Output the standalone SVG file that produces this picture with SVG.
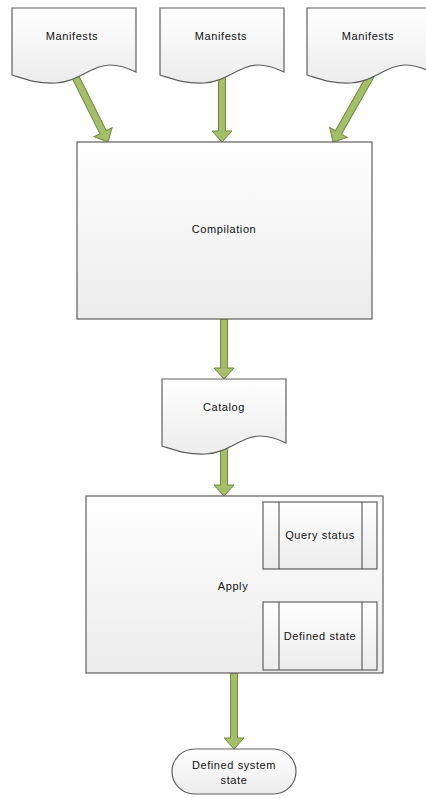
<svg xmlns="http://www.w3.org/2000/svg" width="426" height="798" viewBox="0 0 426 798">
  <style>
    .shape { fill: url(#boxFill); stroke: #5f5f5f; stroke-width: 1.2; }
    .inner { fill: none; stroke: #5f5f5f; stroke-width: 1.2; }
    .flow { fill: #a3bf6a; stroke: #6f8a3e; stroke-width: 1; stroke-linejoin: miter; }
    .label { font-family: "Liberation Sans", Arial, sans-serif; font-size: 11px; letter-spacing: 0.6px; fill: #111; text-anchor: middle; }
  </style>
  <defs>
    <linearGradient id="boxFill" x1="0" y1="0" x2="0" y2="1">
      <stop offset="0" stop-color="#ffffff"/>
      <stop offset="1" stop-color="#ececec"/>
    </linearGradient>
    <!-- document shape: flat top, wavy bottom -->
    <path id="doc" d="M0,0 H124 V64 C116,60 108,57 98,57 C80,57 66,74 44,75 C24,76 10,70 0,67 Z"/>
  </defs>

  <rect width="426" height="798" fill="#ffffff"/>

  <!-- connectors (drawn first so shapes sit on top) -->
  <g id="connectors">
    <!-- down-pointing fat arrow with tip at origin -->
    <polygon class="flow" transform="translate(108,142) rotate(-26.6)" points="-3.5,-76 3.5,-76 3.5,-11 10,-11 0,0 -10,-11 -3.5,-11"/>
    <polygon class="flow" transform="translate(222,142)" points="-3.5,-72 3.5,-72 3.5,-11 10,-11 0,0 -10,-11 -3.5,-11"/>
    <polygon class="flow" transform="translate(333,142) rotate(29.6)" points="-3.5,-76 3.5,-76 3.5,-11 10,-11 0,0 -10,-11 -3.5,-11"/>
    <polygon class="flow" transform="translate(224,379)" points="-3.5,-60 3.5,-60 3.5,-11 10,-11 0,0 -10,-11 -3.5,-11"/>
    <polygon class="flow" transform="translate(224,496)" points="-3.5,-56 3.5,-56 3.5,-11 10,-11 0,0 -10,-11 -3.5,-11"/>
    <polygon class="flow" transform="translate(320,602)" points="-3.5,-33 3.5,-33 3.5,-11 10,-11 0,0 -10,-11 -3.5,-11"/>
    <polygon class="flow" transform="translate(234,749)" points="-3.5,-76 3.5,-76 3.5,-11 10,-11 0,0 -10,-11 -3.5,-11"/>
  </g>

  <g id="manifests1">
    <use href="#doc" class="shape" transform="translate(12,8)"/>
    <text class="label" x="72" y="40">Manifests</text>
  </g>
  <g id="manifests2">
    <use href="#doc" class="shape" transform="translate(160,8)"/>
    <text class="label" x="221" y="40">Manifests</text>
  </g>
  <g id="manifests3">
    <use href="#doc" class="shape" transform="translate(307,8)"/>
    <text class="label" x="368" y="40">Manifests</text>
  </g>

  <g id="compilation">
    <rect class="shape" x="77" y="142" width="295" height="177"/>
    <text class="label" x="224" y="233">Compilation</text>
  </g>

  <g id="catalog">
    <use href="#doc" class="shape" transform="translate(162,379)"/>
    <text class="label" x="224" y="411">Catalog</text>
  </g>

  <g id="apply">
    <rect class="shape" x="86" y="496" width="297" height="177"/>
    <text class="label" x="233" y="590">Apply</text>
  </g>

  <g id="query-status">
    <rect class="shape" x="263" y="502" width="114" height="67"/>
    <line class="inner" x1="279" y1="502" x2="279" y2="569"/>
    <line class="inner" x1="362" y1="502" x2="362" y2="569"/>
    <text class="label" x="320" y="539">Query status</text>
  </g>

  <g id="defined-state">
    <rect class="shape" x="263" y="602" width="114" height="68"/>
    <line class="inner" x1="279" y1="602" x2="279" y2="670"/>
    <line class="inner" x1="362" y1="602" x2="362" y2="670"/>
    <text class="label" x="320" y="640">Defined state</text>
  </g>

  <g id="defined-system-state">
    <rect class="shape" x="172" y="749" width="124" height="45" rx="22.5"/>
    <text class="label" x="234" y="769">Defined system</text>
    <text class="label" x="234" y="784">state</text>
  </g>
</svg>
